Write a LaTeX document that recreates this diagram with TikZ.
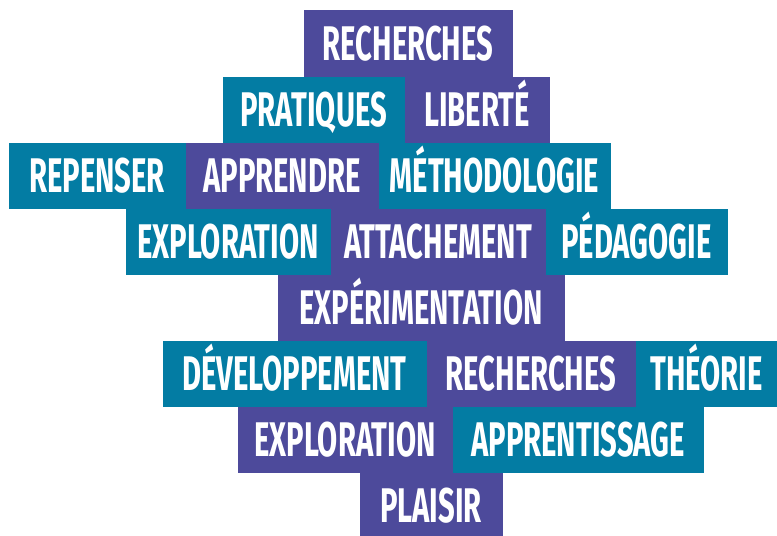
\documentclass[tikz,border=0pt]{standalone}
\usepackage{fontspec}
\newfontfamily\motfont[FakeStretch=0.6]{Fira Sans}
\definecolor{violetmot}{RGB}{77,74,155}
\definecolor{bleumot}{RGB}{3,124,163}

\tikzset{every picture/.style={line width=0.75pt}}
\tikzset{
  mot/.style={anchor=north west, inner sep=0pt, text=white, font=\motfont\bfseries\fontsize{36.5}{36.5}\selectfont,
    text height=25pt, text depth=0pt, minimum height=49.5pt},
  fondviolet/.style={mot, fill=violetmot},
  fondbleu/.style={mot, fill=bleumot},
  larg/.style={minimum width=#1*0.75pt}
}

\begin{document}
\begin{tikzpicture}[x=0.75pt,y=0.75pt,yscale=-1,xscale=1]
\useasboundingbox (0,0) rectangle (777,535);

% Text Node
\draw (303,10) node [fondviolet, larg=209] (rech1) {RECHERCHES};
% Text Node
\draw (222,76) node [fondbleu, larg=182] (prat) {PRATIQUES};
% Text Node
\draw (404,76) node [fondviolet, larg=145] (lib) {LIBERTÉ};
% Text Node
\draw (8,142) node [fondbleu, larg=177] (rep) {REPENSER};
% Text Node
\draw (185,142) node [fondviolet, larg=193] (appr) {APPRENDRE};
% Text Node
\draw (378,142) node [fondbleu, larg=232] (meth) {MÉTHODOLOGIE};
% Text Node
\draw (125,208) node [fondbleu, larg=205] (expl1) {EXPLORATION};
% Text Node
\draw (330,208) node [fondviolet, larg=215] (att) {ATTACHEMENT};
% Text Node
\draw (545,208) node [fondbleu, larg=182] (ped) {PÉDAGOGIE};
% Text Node
\draw (277,274) node [fondviolet, larg=287] (exper) {EXPÉRIMENTATION};
% Text Node
\draw (162,340) node [fondbleu, larg=264] (dev) {DÉVELOPPEMENT};
% Text Node
\draw (426,340) node [fondviolet, larg=209] (rech2) {RECHERCHES};
% Text Node
\draw (635,340) node [fondbleu, larg=142] (theo) {THÉORIE};
% Text Node
\draw (237,406) node [fondviolet, larg=215] (expl2) {EXPLORATION};
% Text Node
\draw (452,406) node [fondbleu, larg=251] (apprent) {APPRENTISSAGE};
% Text Node
\draw (359,472) node [fondviolet, larg=143] (plai) {PLAISIR};

\end{tikzpicture}
\end{document}
